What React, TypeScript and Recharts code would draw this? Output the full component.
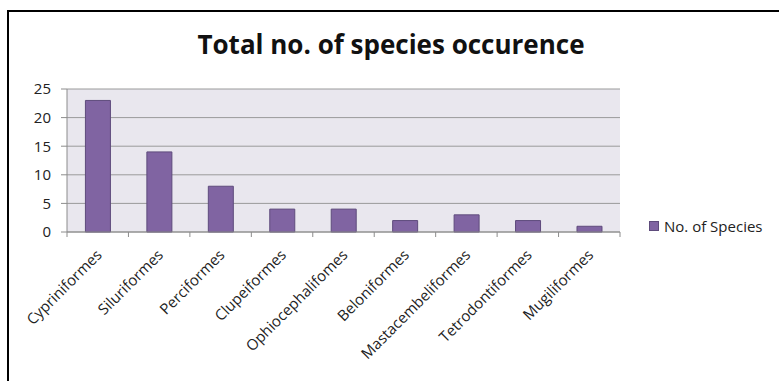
import { BarChart, Bar, XAxis, YAxis, CartesianGrid } from 'recharts';

const orders = [
  'Cypriniformes',
  'Siluriformes',
  'Perciformes',
  'Clupeiformes',
  'Ophiocephalifomes',
  'Beloniformes',
  'Mastacembeliformes',
  'Tetrodontiformes',
  'Mugiliformes',
];
const speciesCounts = [23, 14, 8, 4, 4, 2, 3, 2, 1];
const yTicks = [0, 5, 10, 15, 20, 25];
const seriesName = 'No. of Species';
const title = 'Total no. of species occurence';

const data = orders.map((name, i) => ({ name, value: speciesCounts[i] }));

const W = 779;
const H = 381;
const PLOT_LEFT = 67;
const PLOT_RIGHT = 620;
const PLOT_TOP = 89;
const PLOT_BOTTOM = 232;
const BAND = (PLOT_RIGHT - PLOT_LEFT) / orders.length;
const FONT = '"Open Sans", sans-serif';

const XTick = (props: any) => {
  const { x, y, payload, index } = props;
  const half = BAND / 2;
  const tx = x + 5;
  const ty = y + 24;
  return (
    <g>
      <line x1={x - half} x2={x - half} y1={y} y2={y + 5} stroke="#8c8c8c" />
      {index === orders.length - 1 && (
        <line x1={x + half} x2={x + half} y1={y} y2={y + 5} stroke="#8c8c8c" />
      )}
      <text
        x={tx}
        y={ty}
        textAnchor="end"
        transform={`rotate(-45, ${tx}, ${ty})`}
        fontSize={15}
        fontFamily={FONT}
        fill="#222"
      >
        {payload.value}
      </text>
    </g>
  );
};

export default function App() {
  return (
    <div
      style={{
        position: 'absolute',
        left: 0,
        top: 0,
        width: W,
        height: H,
        overflow: 'hidden',
        background: '#fff',
      }}
    >
      <div
        style={{
          position: 'absolute',
          left: 7,
          top: 10,
          width: W,
          height: H,
          borderLeft: '2px solid #000',
          borderTop: '2px solid #000',
        }}
      />
      <div
        style={{
          position: 'absolute',
          left: 0,
          width: 2 * 391,
          top: 26,
          textAlign: 'center',
          fontFamily: FONT,
          fontWeight: 700,
          fontSize: 26,
          color: '#111',
        }}
      >
        {title}
      </div>
      <div
        style={{
          position: 'absolute',
          left: 649,
          top: 216,
          display: 'flex',
          alignItems: 'center',
          fontFamily: FONT,
          fontSize: 15,
          color: '#222',
          whiteSpace: 'nowrap',
        }}
      >
        <span
          style={{
            width: 8,
            height: 8,
            background: '#8064a2',
            border: '1px solid #5e4b7c',
            marginRight: 5,
            display: 'inline-block',
          }}
        />
        {seriesName}
      </div>
      <BarChart
        width={W}
        height={H}
        data={data}
        margin={{ top: PLOT_TOP, right: W - PLOT_RIGHT, bottom: 0, left: 0 }}
        barCategoryGap="30%"
        style={{ position: 'absolute', left: 0, top: 0 }}
      >
        <CartesianGrid vertical={false} fill="#e9e7ee" stroke="#9a9a9a" />
        <XAxis
          dataKey="name"
          interval={0}
          height={H - PLOT_BOTTOM}
          tickLine={false}
          tickSize={0}
          tickMargin={0}
          axisLine={{ stroke: '#8c8c8c' }}
          tick={<XTick />}
        />
        <YAxis
          width={PLOT_LEFT}
          domain={[0, 25]}
          ticks={yTicks}
          interval={0}
          tickSize={6}
          tickMargin={10}
          axisLine={{ stroke: '#8c8c8c' }}
          tickLine={{ stroke: '#8c8c8c' }}
          tick={{ fontSize: 15, fontFamily: FONT, fill: '#222' }}
        />
        <Bar
          dataKey="value"
          name={seriesName}
          fill="#8064a2"
          stroke="#5e4b7c"
          strokeWidth={1}
          isAnimationActive={false}
        />
      </BarChart>
    </div>
  );
}
